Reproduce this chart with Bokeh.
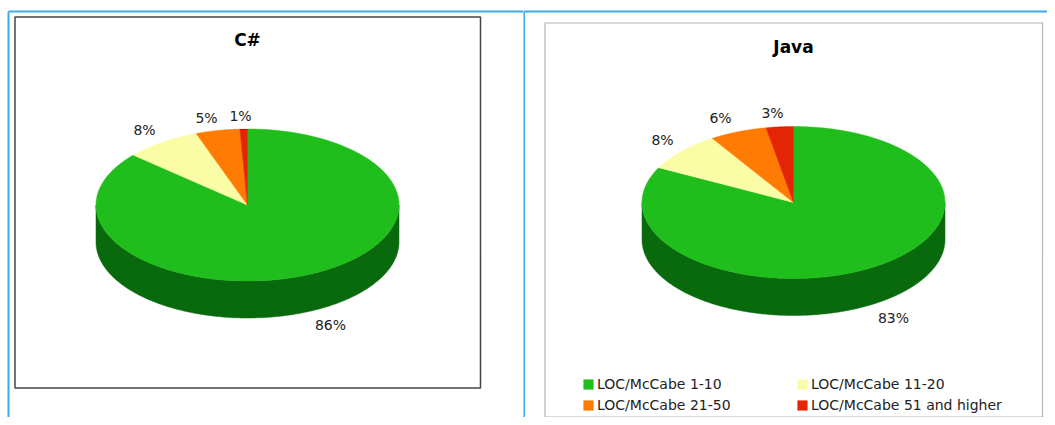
import numpy as np
from bokeh.embed import file_html
from bokeh.resources import INLINE
from bokeh.layouts import row
from bokeh.models import Range1d, Legend, LegendItem
from bokeh.plotting import figure

categories = ["LOC/McCabe 1-10", "LOC/McCabe 11-20", "LOC/McCabe 21-50", "LOC/McCabe 51 and higher"]
csharp_values = [86.4, 8.1, 4.7, 0.8]
csharp_labels = ["86%", "8%", "5%", "1%"]
java_values = [82.5, 8.4, 6.1, 2.9]
java_labels = ["83%", "8%", "6%", "3%"]

COLORS = ["#20be1c", "#fbfca6", "#ff7b03", "#e42505"]
DARK = ["#086a0c", "#a0a06a", "#a04e02", "#8f1703"]
BLUE = "#3daae9"
FONT = "DejaVu Sans"
Y0, Y1 = 0, 417
XMID = 523
XEND = 1047


def pie(p, values, labels, title, cx, cy, title_y, label_pos):
    rx, ry, depth = 151.5, 76, 37
    total = sum(values)
    renderers = []
    start = 0.0
    spans = []
    for v in values:
        end = start + 360.0 * v / total
        spans.append((start, end))
        start = end
    for (a, b), dark in zip(spans, DARK):
        lo, hi = max(a, 90), min(b, 270)
        if hi > lo:
            t = np.radians(np.linspace(lo, hi, 240))
            x = cx + rx * np.sin(t)
            y = cy - ry * np.cos(t)
            p.patch(np.r_[x, x[::-1]], np.r_[y, y[::-1] + depth], fill_color=dark, line_color=dark, line_width=0.5)
    for (a, b), col in zip(spans, COLORS):
        t = np.radians(np.linspace(a, b, 360))
        x = np.r_[cx, cx + rx * np.sin(t)]
        y = np.r_[cy, cy - ry * np.cos(t)]
        renderers.append(p.patch(x, y, fill_color=col, line_color=col, line_width=0.5))
    p.text(x=[q[0] for q in label_pos], y=[q[1] for q in label_pos], text=labels,
           text_align="center", text_baseline="middle", text_color="#222222",
           text_font={"value": FONT}, text_font_size="14px")
    p.text(x=[cx], y=[title_y], text=[title], text_align="center",
           text_baseline="middle", text_color="#000000", text_font={"value": FONT},
           text_font_style="bold", text_font_size="17px")
    return renderers


def panel(width, x0, x1):
    p = figure(width=width, height=Y1 - Y0, x_range=Range1d(x0, x1), y_range=Range1d(Y1, Y0),
               output_backend="svg", toolbar_location=None, min_border=0)
    p.axis.visible = False
    p.grid.visible = False
    p.outline_line_color = None
    return p


left = panel(XMID, 0, XMID)
left.line([8, XMID], [11, 11], line_color=BLUE, line_width=2)
left.line([8, 8], [11, Y1], line_color=BLUE, line_width=2)
left.quad(left=14.5, right=480, top=16.5, bottom=387.5, fill_color="white", line_color="#444444", line_width=1.5)
pie(left, csharp_values, csharp_labels, "C#", 247, 204.5, 39,
    [(330, 324), (144, 129), (206, 117), (240, 115)])

right = panel(XEND - XMID, XMID, XEND)
right.line([XMID, XEND], [11, 11], line_color=BLUE, line_width=2)
right.line([XMID + 0.5, XMID + 0.5], [11, Y1], line_color=BLUE, line_width=2)
right.quad(left=544.5, right=1042, top=22.5, bottom=Y1 - 0.5, fill_color="white", line_color="#b4b4b4", line_width=1.2)
rs = pie(right, java_values, java_labels, "Java", 793, 202, 46,
         [(893, 317), (662, 139), (720, 117), (772, 112)])

legend = Legend(items=[LegendItem(label=c, renderers=[r]) for c, r in zip(categories, rs)],
                location=(59, 4), ncols=2, orientation="horizontal", glyph_width=12, glyph_height=12,
                label_standoff=3, label_width=194, spacing=5, padding=0, margin=0,
                border_line_color=None, background_fill_alpha=0,
                label_text_font=FONT, label_text_font_size="14px", label_text_color="#222222")
right.add_layout(legend)

page = row(left, right, spacing=0)
open("out.html", "w").write(file_html(page, INLINE))
